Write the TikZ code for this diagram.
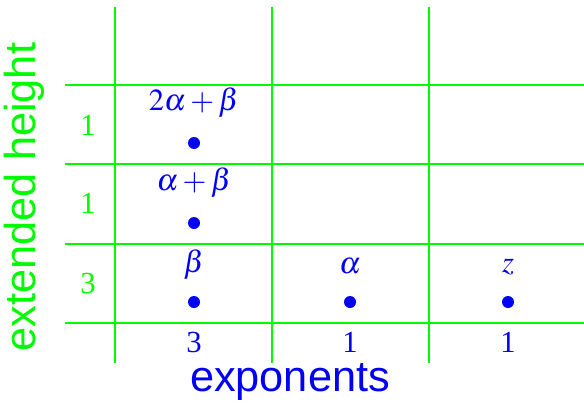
\documentclass[tikz,border=0pt]{standalone}
\usepackage{mathptmx}
\usepackage{fontspec}
\setmainfont{Liberation Serif}
\setsansfont{Liberation Sans}
\definecolor{gridgreen}{RGB}{0,250,0}
\definecolor{dotblue}{RGB}{0,0,245}
\begin{document}
\begin{tikzpicture}[x=0.75pt,y=-0.75pt,
  gridline/.style={draw=gridgreen,line width=2.2pt},
  rowlab/.style={text=gridgreen,font=\fontsize{23}{26}\selectfont,inner sep=0pt},
  collab/.style={text=dotblue,font=\fontsize{23}{26}\selectfont,inner sep=0pt},
  cellab/.style={text=dotblue,font=\fontsize{23}{26}\selectfont,inner sep=0pt},
  pt/.style={circle,fill=dotblue,inner sep=0pt,minimum size=9pt},
  axlab/.style={font=\sffamily\fontsize{32.5}{36}\selectfont,inner sep=0pt}]
\useasboundingbox (0,0) rectangle (584,403);
% grid
\foreach \x in {115,272,429} \draw[gridline] (\x,7) -- (\x,363);
\foreach \y in {85,164,244,323} \draw[gridline] (65,\y) -- (584,\y);
% row labels
\node[rowlab] (r1) at (88,125) {1};
\node[rowlab] (r2) at (88,203) {1};
\node[rowlab] (r3) at (88,283) {3};
% column labels
\node[collab] (c1) at (194,342) {3};
\node[collab] (c2) at (350,342) {1};
\node[collab] (c3) at (508,342) {1};
% dots
\node[pt] (d1) at (194,143) {};
\node[pt] (d2) at (194,223) {};
\node[pt] (d3) at (194,302) {};
\node[pt] (d4) at (350,302) {};
\node[pt] (d5) at (508,302) {};
% dot labels
\node[cellab] (l1) at (194,103) {$2\alpha+\beta$};
\node[cellab] (l2) at (194,183) {$\alpha+\beta$};
\node[cellab] (l3) at (194,265) {$\beta$};
\node[cellab] (l4) at (350,266) {$\alpha$};
\node[cellab] (l5) at (508,267) {$z$};
% axis labels
\node[axlab,text=gridgreen,rotate=90] (ylab) at (24,197) {extended height};
\node[axlab,text=dotblue] (xlab) at (290,382) {exponents};
\end{tikzpicture}
\end{document}
